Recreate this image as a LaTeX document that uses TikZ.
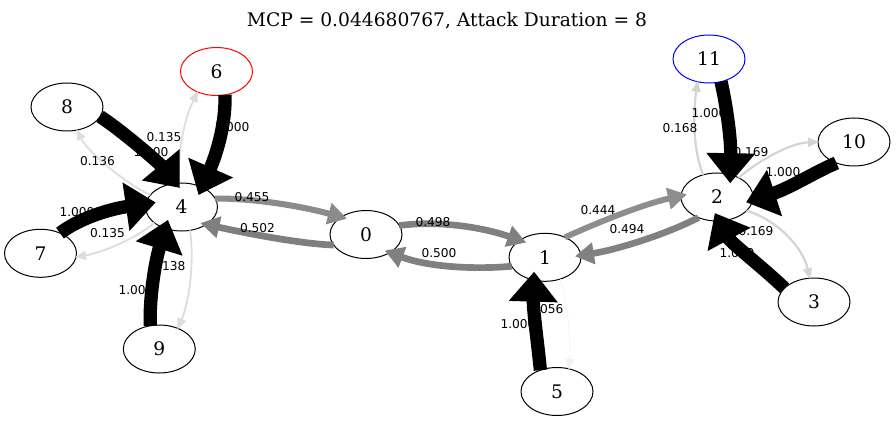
\documentclass[tikz,border=0pt]{standalone}
\usepackage{fontspec}
\setmainfont{DejaVu Serif}
\newfontfamily\lblfont{DejaVu Sans}
\usetikzlibrary{arrows.meta,shapes.geometric}
\definecolor{c455}{gray}{0.545}
\definecolor{c502}{gray}{0.498}
\definecolor{c498}{gray}{0.502}
\definecolor{c500}{gray}{0.5}
\definecolor{c444}{gray}{0.556}
\definecolor{c494}{gray}{0.506}
\definecolor{c135}{gray}{0.865}
\definecolor{c168}{gray}{0.832}
\definecolor{c056}{gray}{0.944}
\begin{document}
\begin{tikzpicture}[x=1pt,y=-1pt,
  gnode/.style={draw=black, line width=1pt, ellipse, minimum width=72pt, minimum height=48pt,
    inner sep=0pt, outer sep=0pt, font=\fontsize{18.67}{20}\selectfont},
  lbl/.style={inner sep=0pt, font=\lblfont\fontsize{12.2}{13}\selectfont},
  blk/.style={draw=black, line width=13.3pt, -{Triangle[length=30pt,width=47pt]}},
  mid/.style 2 args={draw=#1, line width=#2, -{Triangle[length=19pt,width=21pt]}},
  lite/.style 2 args={draw=#1, line width=#2, -{Triangle[length=11pt,width=9pt]}},
]
\useasboundingbox (0,0) rectangle (896,422);
% title
\node[anchor=base, inner sep=0pt, font=\fontsize{18.67}{20}\selectfont] (title) at (447,27)
  {MCP = 0.044680767, Attack Duration = 8};
% nodes
\node[gnode, draw=red]  (n6)  at (216.5,71.5) {6};
\node[gnode] (n8)  at (67,107) {8};
\node[gnode] (n4)  at (181.5,207) {4};
\node[gnode] (n7)  at (40.5,253.3) {7};
\node[gnode] (n9)  at (159.3,349) {9};
\node[gnode] (n0)  at (366,234.5) {0};
\node[gnode] (n1)  at (545,257.3) {1};
\node[gnode] (n5)  at (557,391.5) {5};
\node[gnode, draw=blue] (n11) at (709,59) {11};
\node[gnode] (n2)  at (717,197) {2};
\node[gnode] (n10) at (854,142) {10};
\node[gnode] (n3)  at (814,302) {3};
% light edges
\draw[lite={c135}{1.8pt}, shorten >=-1pt] (n4.159) .. controls (125,183) and (88,152) .. (n8.-67);
\draw[lite={c135}{1.8pt}, shorten >=-1pt] (n4.95) .. controls (177,150) and (185,118) .. (n6.-133);
\draw[lite={c135}{1.8pt}, shorten >=-1pt] (n4.-150) .. controls (140,236) and (105,252) .. (n7.-6);
\draw[lite={c135}{1.8pt}, shorten >=-1pt] (n4.-70) .. controls (195,265) and (188,305) .. (n9.48);
\draw[lite={c056}{0.75pt}, shorten >=-1pt] (n1.-55) .. controls (568,305) and (571,340) .. (n5.62);
\draw[lite={c168}{2.2pt}, shorten >=-1pt] (n2.122) .. controls (693,150) and (693,115) .. (n11.-117);
\draw[lite={c168}{2.2pt}, shorten >=-1pt] (n2.42) .. controls (760,160) and (790,143) .. (n10.180);
\draw[lite={c168}{2.2pt}, shorten >=-1pt] (n2.-25) .. controls (778,220) and (803,248) .. (n3.100);
% gray edges
\draw[mid={c455}{6.1pt}, shorten >=-6pt] (n4.14) .. controls (255,198) and (305,207) .. (n0.145);
\draw[mid={c502}{6.7pt}, shorten >=-6pt] (n0.-162) .. controls (300,244) and (240,232) .. (n4.-35);
\draw[mid={c498}{6.6pt}, shorten >=-7pt] (n0.15) .. controls (440,220) and (485,228) .. (n1.146);
\draw[mid={c500}{6.7pt}, shorten >=-5.5pt] (n1.-165) .. controls (470,270) and (425,266) .. (n0.-37);
\draw[mid={c444}{5.9pt}, shorten >=-6pt] (n1.45) .. controls (592,225) and (640,205) .. (n2.178);
\draw[mid={c494}{6.6pt}, shorten >=-6pt] (n2.-132) .. controls (665,235) and (615,250) .. (n1.3);
% labels
\node[lbl] (l1)  at (232,127) {1.000};
\node[lbl] (l2)  at (164,137) {0.135};
\node[lbl] (l3)  at (151,152) {1.000};
\node[lbl] (l4)  at (97.5,161.5) {0.136};
\node[lbl] (l5)  at (77,212) {1.000};
\node[lbl] (l6)  at (107.5,233.3) {0.135};
\node[lbl] (l7)  at (168,266) {0.138};
\node[lbl] (l8)  at (136,290) {1.000};
\node[lbl] (l9)  at (252,197) {0.455};
\node[lbl] (l10) at (257.5,228) {0.502};
\node[lbl] (l11) at (433,222) {0.498};
\node[lbl] (l12) at (439,253) {0.500};
\node[lbl] (l13) at (546,309) {0.056};
\node[lbl] (l14) at (518,324) {1.000};
\node[lbl] (l15) at (598,210) {0.444};
\node[lbl] (l16) at (627,229) {0.494};
\node[lbl] (l17) at (709,113) {1.000};
\node[lbl] (l18) at (680,128) {0.168};
\node[lbl] (l19) at (751,152) {0.169};
\node[lbl] (l20) at (783,172) {1.000};
\node[lbl] (l21) at (756,231) {0.169};
\node[lbl] (l22) at (737,253) {1.000};
% black edges
\draw[blk, shorten >=-8.5pt] (n6.-70) .. controls (226,128) and (214,160) .. (n4.44);
\draw[blk, shorten >=-6pt] (n8.-16) .. controls (125,133) and (160,164) .. (n4.103);
\draw[blk, shorten >=-10pt] (n7.46) .. controls (80,218) and (110,209) .. (n4.175);
\draw[blk, shorten >=-9pt] (n9.111) .. controls (149,300) and (155,262) .. (n4.-127);
\draw[blk, shorten >=-8.5pt] (n5.128) .. controls (538,345) and (533,310) .. (n1.-116);
\draw[blk, shorten >=-8.5pt] (n11.-62) .. controls (727,108) and (731,140) .. (n2.59);
\draw[blk, shorten >=-7pt] (n10.-130) .. controls (815,172) and (790,188) .. (n2.-5);
\draw[blk, shorten >=-9pt] (n3.155) .. controls (760,265) and (731,243) .. (n2.-85);
\end{tikzpicture}
\end{document}
